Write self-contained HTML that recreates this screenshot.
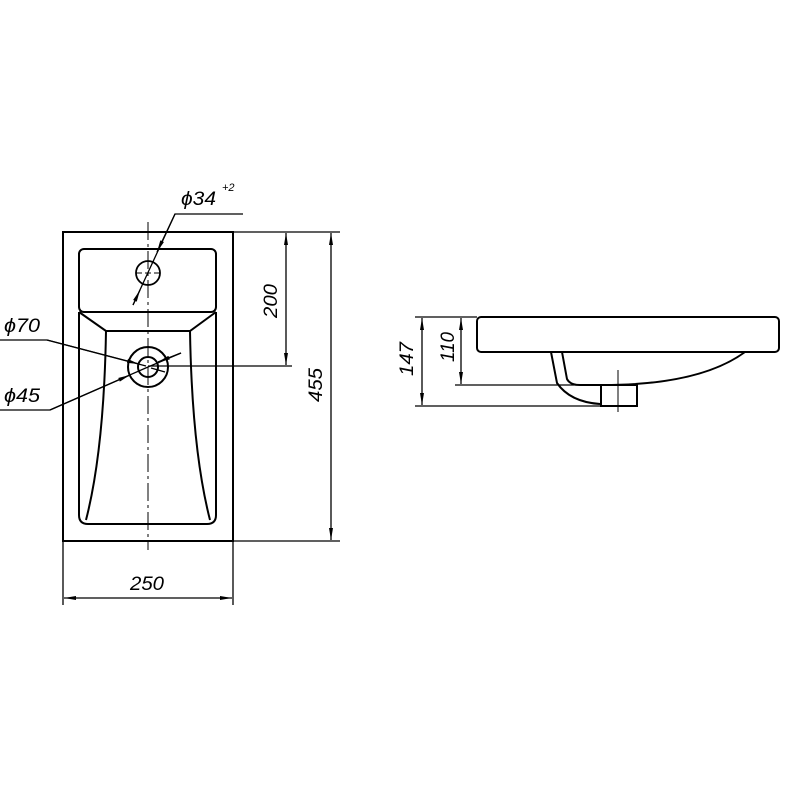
<!DOCTYPE html>
<html><head><style>body{margin:0;background:#fff}svg{display:block}text{font-family:"Liberation Sans",sans-serif;font-style:italic;fill:#000}</style></head><body>
<svg width="785" height="785" viewBox="0 0 785 785" xmlns="http://www.w3.org/2000/svg">
<defs><marker id="a" viewBox="0 0 12 4" refX="12" refY="2" markerWidth="12" markerHeight="4" orient="auto-start-reverse" markerUnits="userSpaceOnUse"><path d="M0,0L12,2L0,4z" fill="#000"/></marker></defs>
<g fill="none" stroke="#000" stroke-width="2">
<rect x="63" y="232" width="170" height="309"/>
<rect x="79" y="249" width="137" height="63" rx="5"/>
<path d="M79 312 V515 Q79 524 88 524 H207 Q216 524 216 515 V312"/>
<path d="M79 312 L106 331 H190 L216 312"/>
<path d="M106 331 Q104 450 86 520 M190 331 Q192 450 210 520"/>
<circle cx="148" cy="273" r="12" stroke-width="1.8"/>
<circle cx="148" cy="367" r="20"/>
<circle cx="148" cy="367" r="10"/>
<rect x="477" y="317" width="302" height="35" rx="4"/>
<path d="M551 352 L557 383 Q570 402 600 404"/>
<path d="M562 352 L567 379 Q570 385 580 385 H603 Q700 385 745 352"/>
<rect x="601" y="385" width="36" height="21"/>
</g>
<g fill="none" stroke="#000" stroke-width="1.3">
<path d="M148 222 V550" stroke-dasharray="18,4,3,4" stroke-width="1"/>
<path d="M136 273 H160" stroke-dasharray="6,3" stroke-width="1"/>
<path d="M618 370 V412" stroke-width="1"/>
<path d="M233 232 H340 M233 541 H340 M148 366 H292 M63 541 V605 M233 541 V605"/>
<line x1="286" y1="233" x2="286" y2="365" marker-start="url(#a)" marker-end="url(#a)"/>
<line x1="331" y1="233" x2="331" y2="540" marker-start="url(#a)" marker-end="url(#a)"/>
<line x1="64" y1="598" x2="232" y2="598" marker-start="url(#a)" marker-end="url(#a)"/>
<path d="M243 214 H175 L133 305"/>
<line x1="175" y1="214" x2="157" y2="252" marker-end="url(#a)"/>
<line x1="133" y1="305" x2="140" y2="290" marker-end="url(#a)"/>
<path d="M0 340 H47 L146 366"/>
<line x1="47" y1="340" x2="139" y2="364" marker-end="url(#a)"/>
<line x1="181" y1="353" x2="158" y2="362" marker-end="url(#a)"/>
<path d="M0 410 H50 L148 367 L181 353"/>
<line x1="50" y1="410" x2="130" y2="375" marker-end="url(#a)"/>
<line x1="165" y1="372" x2="151" y2="368"/>
<path d="M415 317 H477 M455 385 H603 M415 406 H601"/>
<line x1="461" y1="318" x2="461" y2="384" marker-start="url(#a)" marker-end="url(#a)"/>
<line x1="422" y1="318" x2="422" y2="405" marker-start="url(#a)" marker-end="url(#a)"/>
</g>
<text x="181" y="205" font-size="19" textLength="35" lengthAdjust="spacingAndGlyphs">ϕ34</text>
<text x="222" y="191" font-size="11">+2</text>
<text x="4" y="332" font-size="19" textLength="36" lengthAdjust="spacingAndGlyphs">ϕ70</text>
<text x="4" y="402" font-size="19" textLength="36" lengthAdjust="spacingAndGlyphs">ϕ45</text>
<text x="130" y="590" font-size="19" textLength="34" lengthAdjust="spacingAndGlyphs">250</text>
<text font-size="19" transform="translate(277 318) rotate(-90)" textLength="34" lengthAdjust="spacingAndGlyphs">200</text>
<text font-size="19" transform="translate(322 402) rotate(-90)" textLength="34" lengthAdjust="spacingAndGlyphs">455</text>
<text font-size="19" transform="translate(454 362) rotate(-90)" textLength="30" lengthAdjust="spacingAndGlyphs">110</text>
<text font-size="19" transform="translate(413 376) rotate(-90)" textLength="34" lengthAdjust="spacingAndGlyphs">147</text>
</svg>
</body></html>
